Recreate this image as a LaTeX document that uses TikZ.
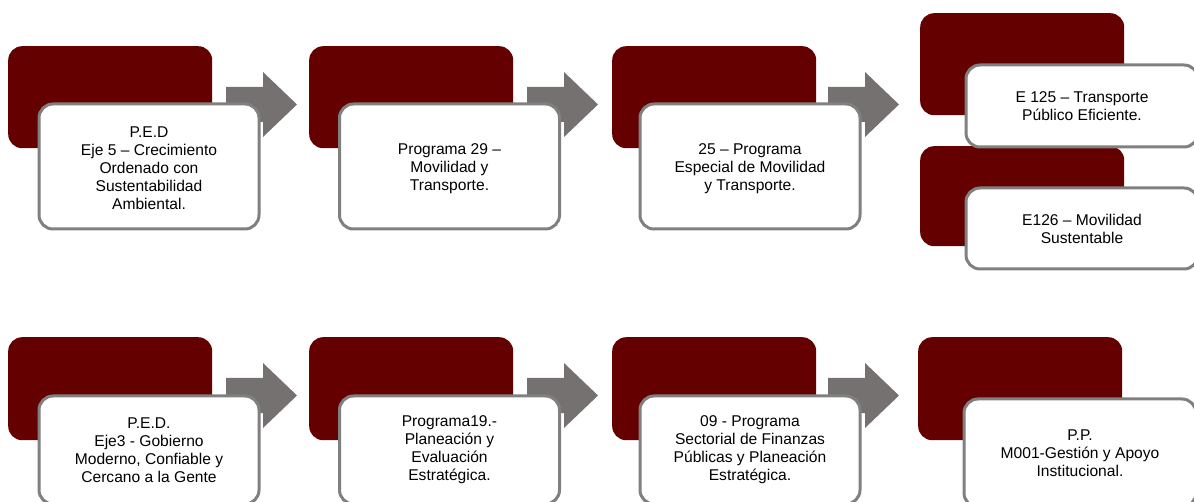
\documentclass[tikz,border=0pt]{standalone}
\usepackage{fontspec}
\setmainfont{Liberation Sans}
\definecolor{darkred}{HTML}{640000}
\definecolor{edgegray}{HTML}{808080}
\definecolor{arrowgray}{HTML}{767171}
\begin{document}
\begin{tikzpicture}[x=1pt,y=-1pt,
  darkbox/.style={fill=darkred, rounded corners=14pt, anchor=north west, inner sep=0pt, minimum width=204pt},
  whitebox/.style={fill=white, draw=edgegray, line width=3pt, rounded corners=14pt, anchor=north west,
    align=center, inner sep=0pt, text=black, font=\fontsize{15.6}{18}\selectfont},
  blockarrow/.pic={\fill[arrowgray] (0,-17.5) -- (37,-17.5) -- (37,-32.5) -- (71,0) -- (37,32.5) -- (37,17.5) -- (0,17.5) -- cycle;}]
\useasboundingbox (0,0) rectangle (1194,502);
\clip (0,0) rectangle (1194,502);
% ---------- row 1 ----------
\node[darkbox, minimum height=102pt] (d11) at (8,46) {};
\node[darkbox, minimum height=102pt] (d12) at (309,46) {};
\node[darkbox, minimum height=102pt] (d13) at (612,46) {};
\node[darkbox, minimum height=102pt] (d14) at (920,13) {};
\node[darkbox, minimum height=100pt] (d15) at (920,146) {};
\pic at (226,104.5) {blockarrow};
\pic at (527,104.5) {blockarrow};
\pic at (828,104.5) {blockarrow};
\node[whitebox, minimum width=220pt, minimum height=125pt, text depth=0pt] (w11) at (37.5,102.5) {};
\node at ([yshift=-2pt]w11.center) [align=center, font=\fontsize{15.6}{18}\selectfont] (t11)
  {P.E.D\\Eje 5 – Crecimiento\\Ordenado con\\Sustentabilidad\\Ambiental.};
\node[whitebox, minimum width=220pt, minimum height=125pt] (w12) at (338,102.5) {};
\node at ([yshift=-2pt]w12.center) [align=center, font=\fontsize{15.6}{18}\selectfont] (t12)
  {Programa 29 –\\Movilidad y\\Transporte.};
\node[whitebox, minimum width=220pt, minimum height=125pt] (w13) at (638.5,102.5) {};
\node at ([yshift=-2pt]w13.center) [align=center, font=\fontsize{15.6}{18}\selectfont] (t13)
  {25 – Programa\\Especial de Movilidad\\y Transporte.};
\node[whitebox, minimum width=232pt, minimum height=82pt] (w14) at (964.5,63.5)
  {E 125 – Transporte\\Público Eficiente.};
\node[whitebox, minimum width=232pt, minimum height=81pt] (w15) at (964.5,186.5)
  {E126 – Movilidad\\Sustentable};
% ---------- row 2 ----------
\node[darkbox, minimum height=103pt] (d21) at (8,337) {};
\node[darkbox, minimum height=103pt] (d22) at (309,337) {};
\node[darkbox, minimum height=103pt] (d23) at (612,337) {};
\node[darkbox, minimum height=103pt] (d24) at (918,337) {};
\pic at (226,395.5) {blockarrow};
\pic at (527,395.5) {blockarrow};
\pic at (828,395.5) {blockarrow};
\node[whitebox, minimum width=220pt, minimum height=108pt] (w21) at (37.5,394.5)
  {P.E.D.\\Eje3 - Gobierno\\Moderno, Confiable y\\Cercano a la Gente};
\node[whitebox, minimum width=220pt, minimum height=108pt] (w22) at (338,394.5)
  {Programa19.-\\Planeación y\\Evaluación\\Estratégica.};
\node[whitebox, minimum width=220pt, minimum height=108pt] (w23) at (638.5,394.5)
  {09 - Programa\\Sectorial de Finanzas\\Públicas y Planeación\\Estratégica.};
\node[whitebox, minimum width=232pt, minimum height=108pt] (w24) at (962.5,397.5)
  {P.P.\\M001-Gestión y Apoyo\\Institucional.};
\end{tikzpicture}
\end{document}
